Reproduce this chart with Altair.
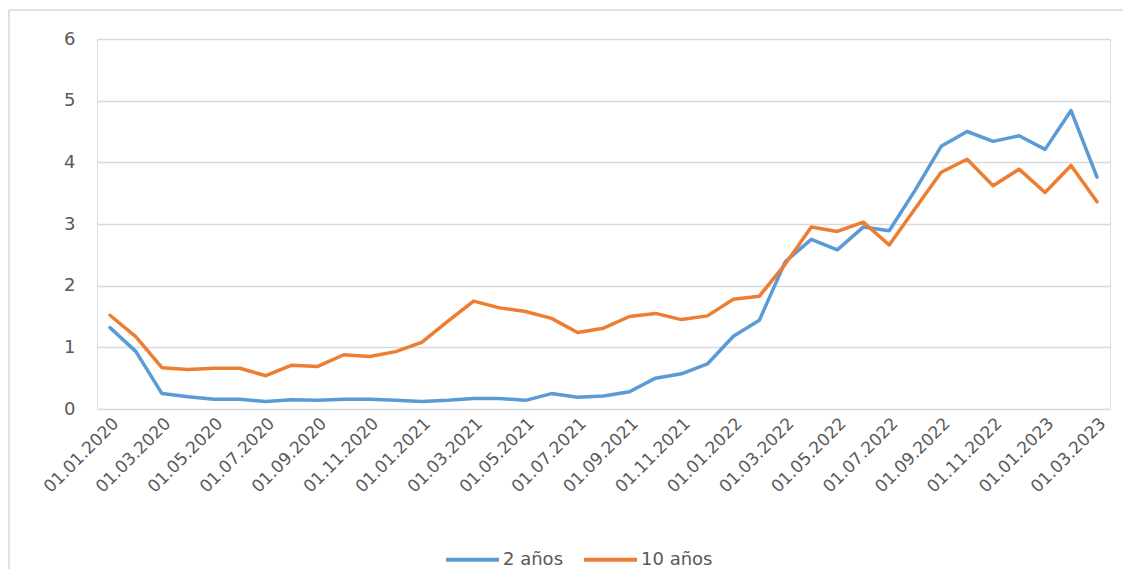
import altair as alt
import pandas as pd

# Categories: first day of each month, Jan 2020 .. Mar 2023
fechas = [f"01.{m:02d}.{y}" for y in (2020, 2021, 2022, 2023) for m in range(1, 13)][:39]

# Series values
dos_anos = [1.32, 0.93, 0.25, 0.20, 0.16, 0.16, 0.12, 0.15, 0.14, 0.16,
            0.16, 0.14, 0.12, 0.14, 0.17, 0.17, 0.14, 0.25, 0.19, 0.21,
            0.28, 0.50, 0.57, 0.73, 1.18, 1.44, 2.39, 2.75, 2.58, 2.95,
            2.89, 3.55, 4.26, 4.50, 4.34, 4.43, 4.21, 4.84, 3.76]
diez_anos = [1.52, 1.17, 0.67, 0.64, 0.66, 0.66, 0.54, 0.71, 0.69, 0.88,
             0.85, 0.93, 1.08, 1.42, 1.75, 1.64, 1.58, 1.47, 1.24, 1.31,
             1.50, 1.55, 1.45, 1.51, 1.78, 1.83, 2.35, 2.95, 2.88, 3.03,
             2.66, 3.25, 3.84, 4.05, 3.62, 3.89, 3.51, 3.95, 3.36]

series_names = ["2 años", "10 años"]
series_colors = ["#5B9BD5", "#ED7D31"]
y_ticks = [0, 1, 2, 3, 4, 5, 6]
x_label_values = fechas[::2]

rows = []
for name, vals in zip(series_names, [dos_anos, diez_anos]):
    for i, (f, v) in enumerate(zip(fechas, vals)):
        rows.append({"fecha": f, "orden": i, "serie": name, "valor": v})
df = pd.DataFrame(rows)

FONT = "DejaVu Sans"
GREY = "#595959"

lines = alt.Chart(df).mark_line(strokeWidth=3.5, strokeJoin="round", strokeCap="round").encode(
    x=alt.X("fecha:O", sort=fechas,
            scale=alt.Scale(type="point", padding=0.5),
            axis=alt.Axis(title=None, values=x_label_values, labelAngle=-45,
                          labelAlign="right", labelBaseline="top",
                          labelPadding=6, ticks=False, domain=False, grid=False,
                          labelFont=FONT, labelFontSize=17, labelColor=GREY,
                          labelOverlap=False)),
    y=alt.Y("valor:Q", scale=alt.Scale(domain=[0, 6], nice=False),
            axis=alt.Axis(title=None, values=y_ticks, ticks=False, domain=False,
                          grid=True, gridColor="#d9d9d9", gridWidth=1.5,
                          labelPadding=22, labelFont=FONT, labelFontSize=18,
                          labelColor=GREY)),
    color=alt.Color("serie:N",
                    scale=alt.Scale(domain=series_names, range=series_colors),
                    sort=series_names,
                    legend=alt.Legend(title=None, orient="none", direction="horizontal",
                                      legendX=347, legendY=492,
                                      symbolType="stroke", symbolSize=2809,
                                      symbolStrokeWidth=4, labelOffset=2,
                                      columnPadding=12, padding=0,
                                      labelFont=FONT, labelFontSize=18,
                                      labelColor=GREY)),
    detail="serie:N",
)

frame_top = alt.Chart(pd.DataFrame({"k": [0]})).mark_rule(color="#d9d9d9", strokeWidth=1.5).encode(
    x=alt.value(-88), x2=alt.value(1030), y=alt.value(-29))
frame_left = alt.Chart(pd.DataFrame({"k": [0]})).mark_rule(color="#d9d9d9", strokeWidth=1.5).encode(
    x=alt.value(-88), y=alt.value(-29), y2=alt.value(540))

chart = alt.layer(frame_top, frame_left, lines).properties(
    width=1013, height=370,
    autosize=alt.AutoSizeParams(type="none"),
    padding={"left": 89, "top": 31, "right": 13, "bottom": 160},
).configure_view(stroke=None).configure(background="white")

chart.save("out.html", embed_options={"renderer": "svg", "actions": False})
